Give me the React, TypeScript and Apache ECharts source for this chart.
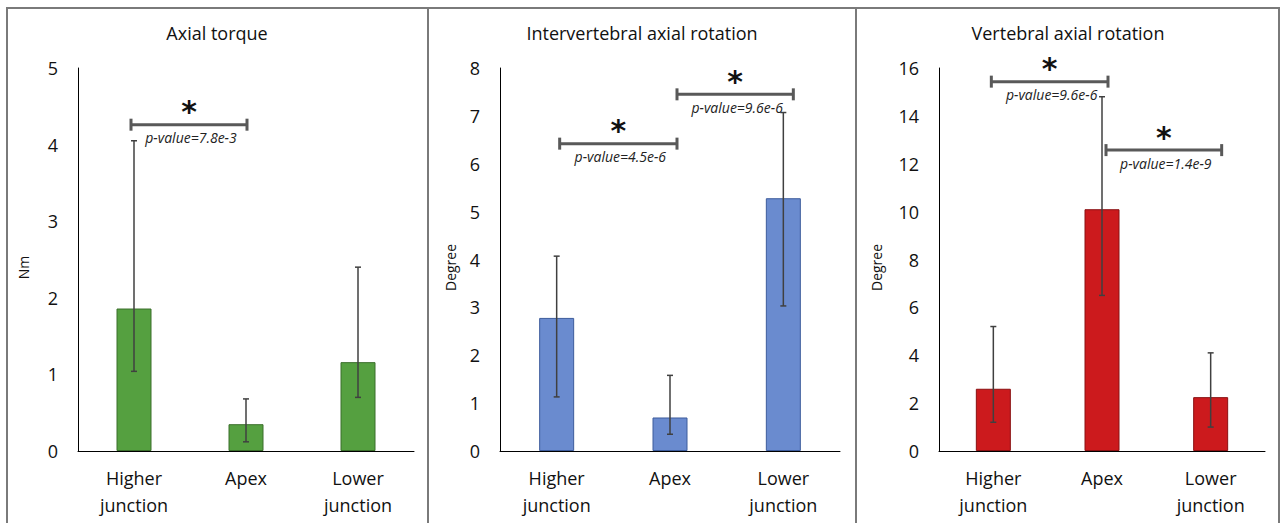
import React, { useEffect, useRef } from "react";
import * as echarts from "echarts";

const categories = ["Higher\njunction", "Apex", "Lower\njunction"];

const torqueMean = [1.86, 0.35, 1.16];
const torqueLow = [1.04, 0.12, 0.7];
const torqueHigh = [4.05, 0.68, 2.4];

const iarMean = [2.78, 0.7, 5.28];
const iarLow = [1.13, 0.35, 3.03];
const iarHigh = [4.07, 1.58, 7.07];

const varMean = [2.6, 10.1, 2.25];
const varLow = [1.2, 6.5, 1.0];
const varHigh = [5.2, 14.8, 4.1];

// brackets: [fromCategory, toCategory, yValue]
const torqueBrackets = [[0, 1, 4.26]];
const torqueP = ["p-value=7.8e-3"];
const iarBrackets = [
  [0, 1, 6.42],
  [1, 2, 7.45],
];
const iarP = ["p-value=4.5e-6", "p-value=9.6e-6"];
const varBrackets = [
  [0, 1, 15.43],
  [1, 2, 12.57],
];
const varP = ["p-value=9.6e-6", "p-value=1.4e-9"];

const titles = ["Axial torque", "Intervertebral axial rotation", "Vertebral axial rotation"];
const yNames = ["Nm", "Degree", "Degree"];
const yMax = [5, 8, 16];
const yInterval = [1, 1, 2];

const FONT = "'Open Sans', 'Noto Sans', sans-serif";

// pixel nudges of bracket ends (left end, right end) relative to category centres
const panels = [
  { mean: torqueMean, low: torqueLow, high: torqueHigh, br: torqueBrackets, p: torqueP, nudge: [[-3, 1]], fill: "#55a040", stroke: "#3a6e2b", grid: { left: 78, top: 68, width: 336, height: 383 }, nameGap: 48, cx: 217 },
  { mean: iarMean, low: iarLow, high: iarHigh, br: iarBrackets, p: iarP, nudge: [[3, 7], [7, 10]], fill: "#6a8bcf", stroke: "#3d5c9c", grid: { left: 500, top: 68, width: 340, height: 383 }, nameGap: 43, cx: 642 },
  { mean: varMean, low: varLow, high: varHigh, br: varBrackets, p: varP, nudge: [[-2, 6], [4, 11]], fill: "#cc1a1d", stroke: "#8a1012", grid: { left: 939, top: 68, width: 326, height: 383 }, nameGap: 56, cx: 1068 },
];

export default function App() {
  const ref = useRef<HTMLDivElement>(null);
  useEffect(() => {
    if (!ref.current) return;
    const chart = echarts.init(ref.current, null, { renderer: "svg" });
    const grids: any[] = [];
    const xAxes: any[] = [];
    const yAxes: any[] = [];
    const series: any[] = [];
    const graphics: any[] = [];

    panels.forEach((pn, i) => {
      grids.push({ ...pn.grid, containLabel: false });
      xAxes.push({
        type: "category",
        gridIndex: i,
        data: categories,
        axisLine: { lineStyle: { color: "#000", width: 1 } },
        axisTick: { show: false },
        axisLabel: { fontSize: 18, color: "#111", fontFamily: FONT, margin: 13, lineHeight: 27, interval: 0 },
      });
      yAxes.push({
        type: "value",
        gridIndex: i,
        min: 0,
        max: yMax[i],
        interval: yInterval[i],
        name: yNames[i],
        nameLocation: "middle",
        nameGap: pn.nameGap,
        nameRotate: 90,
        nameTextStyle: { fontSize: 14, color: "#111", fontFamily: FONT, padding: [0, 0, 0, -16] },
        axisLine: { show: true, lineStyle: { color: "#000", width: 1 } },
        axisTick: { show: false },
        splitLine: { show: false },
        axisLabel: { fontSize: 18, color: "#111", fontFamily: FONT, margin: 20 },
      });
      series.push({
        type: "bar",
        xAxisIndex: i,
        yAxisIndex: i,
        data: pn.mean,
        barWidth: 35,
        itemStyle: { color: pn.fill, borderColor: pn.stroke, borderWidth: 1 },
        z: 2,
      });
      series.push({
        type: "custom",
        xAxisIndex: i,
        yAxisIndex: i,
        z: 5,
        data: pn.mean.map((_, k) => [k, pn.low[k], pn.high[k]]),
        renderItem: (params: any, api: any) => {
          const lo = api.coord([api.value(0), api.value(1)]);
          const hi = api.coord([api.value(0), api.value(2)]);
          const st = { stroke: "#404040", lineWidth: 1.5 };
          return {
            type: "group",
            children: [
              { type: "line", shape: { x1: lo[0], y1: lo[1], x2: hi[0], y2: hi[1] }, style: st },
              { type: "line", shape: { x1: lo[0] - 3, y1: lo[1], x2: lo[0] + 3, y2: lo[1] }, style: st },
              { type: "line", shape: { x1: hi[0] - 3, y1: hi[1], x2: hi[0] + 3, y2: hi[1] }, style: st },
            ],
          };
        },
      });
      series.push({
        type: "custom",
        xAxisIndex: i,
        yAxisIndex: i,
        z: 6,
        data: pn.br,
        renderItem: (params: any, api: any) => {
          const a = api.coord([api.value(0), api.value(2)]);
          const b = api.coord([api.value(1), api.value(2)]);
          const nd = pn.nudge[params.dataIndex];
          const x1 = a[0] + nd[0];
          const x2 = b[0] + nd[1];
          const y = a[1];
          const st = { stroke: "#595959", lineWidth: 3 };
          const mid = (x1 + x2) / 2;
          return {
            type: "group",
            children: [
              { type: "line", shape: { x1, y1: y, x2, y2: y }, style: st },
              { type: "line", shape: { x1, y1: y - 6, x2: x1, y2: y + 6 }, style: st },
              { type: "line", shape: { x1: x2, y1: y - 6, x2, y2: y + 6 }, style: st },
              { type: "text", style: { text: "*", x: mid, y: y - 13, align: "center", verticalAlign: "middle", fontSize: 30, lineHeight: 14, fontWeight: "bold", fill: "#111", fontFamily: "'DejaVu Sans', sans-serif" } },
              { type: "text", style: { text: pn.p[params.dataIndex], x: mid + 2, y: y + 13, align: "center", verticalAlign: "middle", fontSize: 14, lineHeight: 14, fontStyle: "italic", fill: "#222", fontFamily: FONT } },
            ],
          };
        },
      });
      graphics.push({
        type: "text",
        style: { text: titles[i], x: pn.cx, y: 33, align: "center", verticalAlign: "middle", fontSize: 18, fill: "#111", fontFamily: FONT },
      });
    });

    graphics.push(
      { type: "rect", shape: { x: 7, y: 8, width: 421, height: 530 }, style: { fill: "none", stroke: "#7a7a7a", lineWidth: 2 } },
      { type: "rect", shape: { x: 428, y: 8, width: 428, height: 530 }, style: { fill: "none", stroke: "#7a7a7a", lineWidth: 2 } },
      { type: "rect", shape: { x: 856, y: 8, width: 423, height: 530 }, style: { fill: "none", stroke: "#7a7a7a", lineWidth: 2 } }
    );

    chart.setOption({
      animation: false,
      backgroundColor: "#fff",
      grid: grids,
      xAxis: xAxes,
      yAxis: yAxes,
      series,
      graphic: graphics,
    });
    return () => chart.dispose();
  }, []);
  return <div ref={ref} style={{ position: "fixed", left: 0, top: 0, width: 1281, height: 523 }} />;
}
